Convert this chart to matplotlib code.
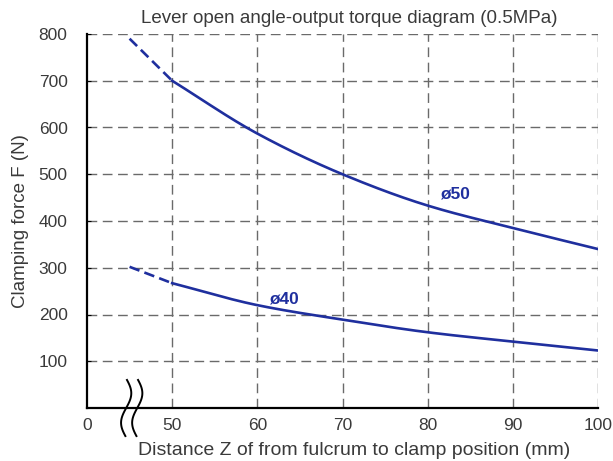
import matplotlib
matplotlib.use("Agg")
import matplotlib.pyplot as plt
import numpy as np

plt.rcParams['font.family'] = ['Liberation Sans', 'DejaVu Sans']

# Data
x_solid = [50, 60, 70, 80, 90, 100]
f50_solid = [700, 587, 500, 433, 385, 340]
f40_solid = [267, 220, 189, 162, 142, 123]
x_dash = [45, 50]
f50_dash = [790, 700]
f40_dash = [302, 267]
xticks = [40, 50, 60, 70, 80, 90, 100]
xticklabels = ['0', '50', '60', '70', '80', '90', '100']
yticks = [100, 200, 300, 400, 500, 600, 700, 800]

blue = '#1f2f9e'
txt = '#3a3a3a'

fig = plt.figure(figsize=(6.13, 4.61), dpi=100)
ax = fig.add_axes([87/613, 53/461, (598-87)/613, (408-34)/461])

def smooth(xs, ys, n=200):
    xs = np.asarray(xs, float); ys = np.asarray(ys, float)
    h = np.diff(xs); d = np.diff(ys) / h
    m = np.zeros_like(ys)
    m[0] = d[0]; m[-1] = d[-1]
    for i in range(1, len(xs) - 1):
        if d[i-1] * d[i] <= 0:
            m[i] = 0
        else:
            w1 = 2*h[i] + h[i-1]; w2 = h[i] + 2*h[i-1]
            m[i] = (w1 + w2) / (w1/d[i-1] + w2/d[i])
    xx = np.linspace(xs[0], xs[-1], n)
    idx = np.clip(np.searchsorted(xs, xx) - 1, 0, len(xs) - 2)
    t = (xx - xs[idx]) / h[idx]
    h00 = 2*t**3 - 3*t**2 + 1; h10 = t**3 - 2*t**2 + t
    h01 = -2*t**3 + 3*t**2; h11 = t**3 - t**2
    yy = h00*ys[idx] + h10*h[idx]*m[idx] + h01*ys[idx+1] + h11*h[idx]*m[idx+1]
    return xx, yy

for ys, yd in [(f50_solid, f50_dash), (f40_solid, f40_dash)]:
    xx, yy = smooth(x_solid, ys)
    ax.plot(xx, yy, color=blue, lw=1.9, zorder=3)
    ax.plot(x_dash, yd, color=blue, lw=1.9, ls=(0, (4, 2)), zorder=3)

ax.text(81.4, 458, 'ø50', color=blue, fontsize=12.5, fontweight='bold', va='center', ha='left')
ax.text(61.4, 234, 'ø40', color=blue, fontsize=12.5, fontweight='bold', va='center', ha='left')

ax.set_xlim(40, 100)
ax.set_ylim(0, 800)
ax.set_xticks(xticks)
ax.set_xticklabels(xticklabels)
ax.set_yticks(yticks)
ax.tick_params(axis='x', labelsize=12.5, colors=txt, length=0, pad=7)
ax.tick_params(axis='y', labelsize=12.5, labelcolor=txt, direction='in', length=3, color='black', pad=14)

for s in ['top', 'right']:
    ax.spines[s].set_visible(False)
for s in ['left', 'bottom']:
    ax.spines[s].set_color('black')
    ax.spines[s].set_linewidth(1.6)

gkw = dict(color='#6a6a6a', lw=1.0, ls=(0, (7, 4)), zorder=1)
for xv in xticks[1:]:
    ax.axvline(xv, **gkw)
for yv in yticks:
    ax.axhline(yv, **gkw)

# axis break symbol
t = np.linspace(-1, 1, 60)
for xc in [44.6, 45.9]:
    bx = xc + 0.6*np.sin(t*np.pi*0.95)
    by = t * 60
    ax.plot(bx, by, color='black', lw=1.4, clip_on=False, zorder=4)

ax.set_title('Lever open angle-output torque diagram (0.5MPa)', fontsize=13.5, color=txt, pad=8, x=0.513)
ax.set_xlabel('Distance Z of from fulcrum to clamp position (mm)', fontsize=14, color=txt, labelpad=9)
ax.xaxis.set_label_coords(0.522, -0.09)
ax.set_ylabel('Clamping force F (N)', fontsize=13.5, color=txt, labelpad=7)

fig.savefig('out.png', dpi=100)
